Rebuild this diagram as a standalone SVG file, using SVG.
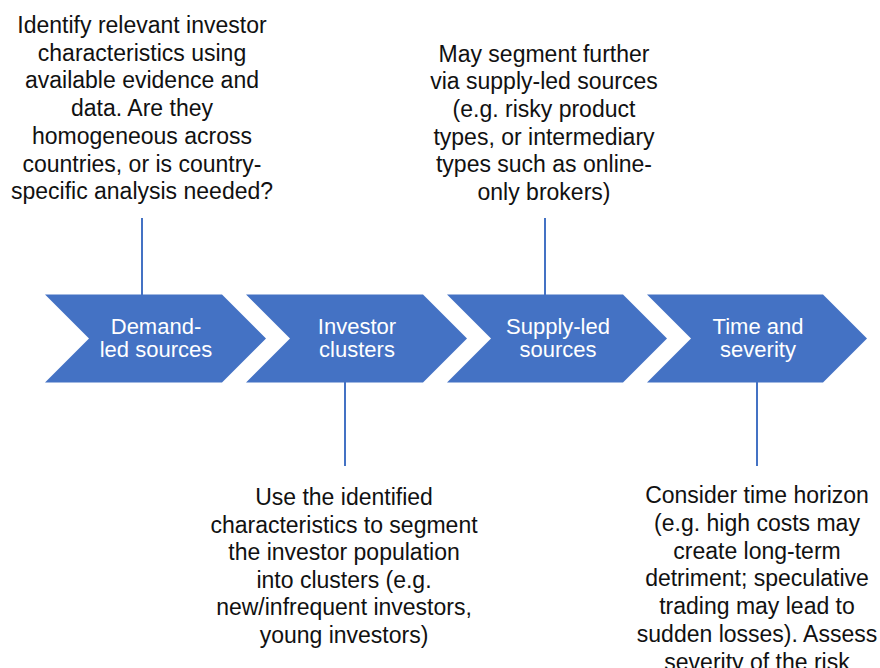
<svg xmlns="http://www.w3.org/2000/svg" width="880" height="668" viewBox="0 0 880 668">
<style>
.chev{fill:#4472C4;}
.ct{font-family:"Liberation Sans",Arial,sans-serif;font-size:22px;fill:#ffffff;text-anchor:middle;}
.nt{font-family:"Liberation Sans",Arial,sans-serif;font-size:23px;fill:#111111;text-anchor:middle;}
.conn{stroke:#4472C4;stroke-width:2;fill:none;}
</style>
<rect width="880" height="668" fill="#ffffff"/>
<g id="connectors">
<line class="conn" x1="142" y1="218" x2="142" y2="295"/>
<line class="conn" x1="545" y1="218" x2="545" y2="295"/>
<line class="conn" x1="345" y1="382" x2="345" y2="466"/>
<line class="conn" x1="757" y1="382" x2="757" y2="466"/>
</g>
<g id="demand">
<path class="chev" d="M45,294.5 L222,294.5 L266,338.5 L222,382.5 L45,382.5 L89,338.5 Z"/>
<text class="ct" x="156" y="334">Demand-</text>
<text class="ct" x="156" y="357">led sources</text>
</g>
<g id="investor">
<path class="chev" d="M246,294.5 L423,294.5 L467,338.5 L423,382.5 L246,382.5 L290,338.5 Z"/>
<text class="ct" x="357" y="334">Investor</text>
<text class="ct" x="357" y="357">clusters</text>
</g>
<g id="supply">
<path class="chev" d="M447,294.5 L623,294.5 L667,338.5 L623,382.5 L447,382.5 L491,338.5 Z"/>
<text class="ct" x="558" y="334">Supply-led</text>
<text class="ct" x="558" y="357">sources</text>
</g>
<g id="time">
<path class="chev" d="M647,294.5 L823,294.5 L867,338.5 L823,382.5 L647,382.5 L691,338.5 Z"/>
<text class="ct" x="758" y="334">Time and</text>
<text class="ct" x="758" y="357">severity</text>
</g>
<g id="note-demand">
<text class="nt" x="142" y="33">Identify relevant investor</text>
<text class="nt" x="142" y="60.7">characteristics using</text>
<text class="nt" x="142" y="88.4">available evidence and</text>
<text class="nt" x="142" y="116.1">data. Are they</text>
<text class="nt" x="142" y="143.8">homogeneous across</text>
<text class="nt" x="142" y="171.5">countries, or is country-</text>
<text class="nt" x="142" y="199.2">specific analysis needed?</text>
</g>
<g id="note-supply">
<text class="nt" x="544" y="61.5">May segment further</text>
<text class="nt" x="544" y="89.2">via supply-led sources</text>
<text class="nt" x="544" y="116.9">(e.g. risky product</text>
<text class="nt" x="544" y="144.6">types, or intermediary</text>
<text class="nt" x="544" y="172.3">types such as online-</text>
<text class="nt" x="544" y="200">only brokers)</text>
</g>
<g id="note-investor">
<text class="nt" x="344" y="505">Use the identified</text>
<text class="nt" x="344" y="532.6">characteristics to segment</text>
<text class="nt" x="344" y="560.2">the investor population</text>
<text class="nt" x="344" y="587.8">into clusters (e.g.</text>
<text class="nt" x="344" y="615.4">new/infrequent investors,</text>
<text class="nt" x="344" y="643">young investors)</text>
</g>
<g id="note-time">
<text class="nt" x="757" y="503">Consider time horizon</text>
<text class="nt" x="757" y="530.8">(e.g. high costs may</text>
<text class="nt" x="757" y="558.6">create long-term</text>
<text class="nt" x="757" y="586.4">detriment; speculative</text>
<text class="nt" x="757" y="614.2">trading may lead to</text>
<text class="nt" x="757" y="642">sudden losses). Assess</text>
<text class="nt" x="757" y="669.8">severity of the risk</text>
</g>
</svg>
